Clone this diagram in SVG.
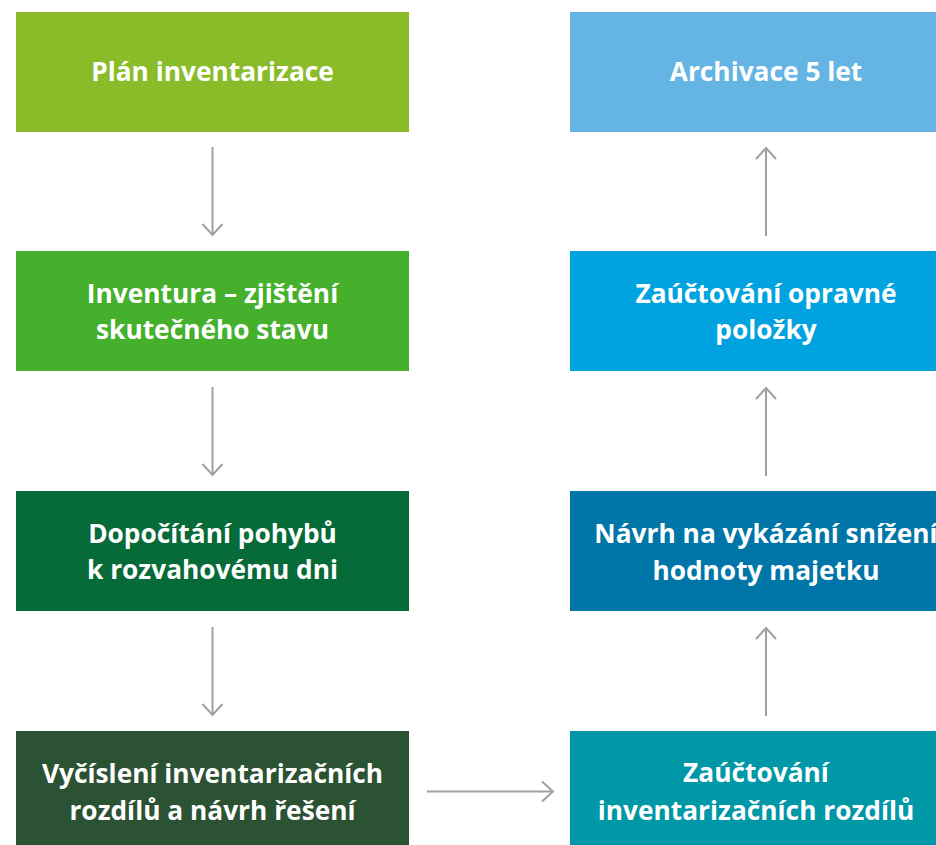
<svg xmlns="http://www.w3.org/2000/svg" width="936" height="845" viewBox="0 0 936 845">
<style>
.t{font-family:"Open Sans","Noto Sans","Liberation Sans",sans-serif;font-weight:700;font-size:26.3px;fill:#ffffff;text-anchor:middle}
.c{fill:none;stroke:#a0a0a0;stroke-width:2}
</style>
<defs>
<marker id="ah" markerUnits="userSpaceOnUse" markerWidth="30" markerHeight="30" viewBox="-15 -15 30 30" refX="0" refY="0" orient="auto">
<path d="M-11,-10 L0,0 L-11,10" fill="none" stroke="#a0a0a0" stroke-width="2"/>
</marker>
</defs>
<rect width="936" height="845" fill="#ffffff"/>
<g id="n1"><rect x="16" y="12" width="393" height="120" fill="#89bc28"/><text class="t" x="212.5" y="81">Plán inventarizace</text></g>
<g id="n2"><rect x="16" y="251" width="393" height="120" fill="#45b02c"/><text class="t" x="212.5" y="303">Inventura – zjištění</text><text class="t" x="212.5" y="339">skutečného stavu</text></g>
<g id="n3"><rect x="16" y="491" width="393" height="120" fill="#066b38"/><text class="t" x="212.5" y="543">Dopočítání pohybů</text><text class="t" x="212.5" y="579">k rozvahovému dni</text></g>
<g id="n4"><rect x="16" y="731" width="393" height="114" fill="#2c5234"/><text class="t" x="212.5" y="783">Vyčíslení inventarizačních</text><text class="t" x="212.5" y="820">rozdílů a návrh řešení</text></g>
<g id="n5"><rect x="570" y="731" width="366" height="114" fill="#0097a7"/><text class="t" x="756" y="782">Zaúčtování</text><text class="t" x="756" y="820">inventarizačních rozdílů</text></g>
<g id="n6"><rect x="570" y="491" width="366" height="120" fill="#0076a8"/><text class="t" x="766" y="543">Návrh na vykázání snížení</text><text class="t" x="766" y="580">hodnoty majetku</text></g>
<g id="n7"><rect x="570" y="251" width="366" height="120" fill="#00a3e0"/><text class="t" x="766" y="303">Zaúčtování opravné</text><text class="t" x="766" y="339">položky</text></g>
<g id="n8"><rect x="570" y="12" width="366" height="120" fill="#64b4e4"/><text class="t" x="766" y="81">Archivace 5 let</text></g>
<g id="connectors">
<line class="c" x1="212.5" y1="147" x2="212.5" y2="235" marker-end="url(#ah)"/>
<line class="c" x1="212.5" y1="387" x2="212.5" y2="475" marker-end="url(#ah)"/>
<line class="c" x1="212.5" y1="627" x2="212.5" y2="715" marker-end="url(#ah)"/>
<line class="c" x1="427" y1="791.5" x2="553" y2="791.5" marker-end="url(#ah)"/>
<line class="c" x1="766" y1="716" x2="766" y2="628" marker-end="url(#ah)"/>
<line class="c" x1="766" y1="476" x2="766" y2="388" marker-end="url(#ah)"/>
<line class="c" x1="766" y1="236" x2="766" y2="148" marker-end="url(#ah)"/>
</g>
</svg>
